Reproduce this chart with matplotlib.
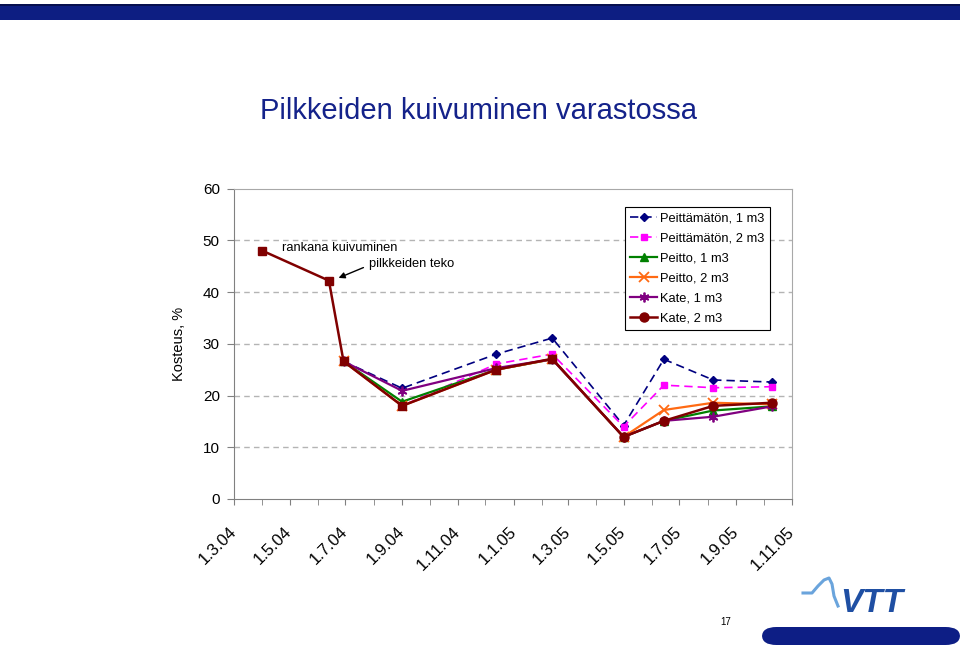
import numpy as np
import pandas as pd
import matplotlib
matplotlib.use('Agg')
import matplotlib.pyplot as plt
import matplotlib.dates as mdates
from matplotlib.patches import Rectangle, FancyBboxPatch
from matplotlib.ticker import FuncFormatter, FixedLocator

plt.rcParams['font.family'] = ['Liberation Sans', 'DejaVu Sans']

# mittauspäivät
dates = pd.to_datetime(['2004-04-01', '2004-06-13', '2004-06-29', '2004-09-01',
                        '2004-12-13', '2005-02-12', '2005-05-01', '2005-06-14',
                        '2005-08-07', '2005-10-10'])

nan = np.nan
peittamaton_1 = [nan, nan, 26.6, 21.4, 28.0, 31.1, 14.2, 27.0, 23.0, 22.6]
peittamaton_2 = [nan, nan, 26.6, 18.0, 26.1, 28.0, 14.0, 22.0, 21.5, 21.7]
peitto_1 = [nan, nan, 26.6, 18.8, 25.0, 27.0, 12.0, 15.1, 17.1, 17.9]
peitto_2 = [nan, nan, 26.6, 18.0, 25.0, 27.0, 12.0, 17.2, 18.6, 18.3]
kate_1 = [nan, nan, 26.6, 20.9, 25.3, 27.0, 12.0, 15.1, 15.9, 17.9]
kate_2 = [48.0, 42.2, 26.6, 18.0, 25.0, 27.1, 12.0, 15.1, 18.0, 18.6]

W, H = 960, 645


def fx(px):
    return px / W


def fy(py):
    return 1 - py / H


fig = plt.figure(figsize=(9.6, 6.45), dpi=100)
fig.patch.set_facecolor('white')

# yläpalkki
fig.patches.append(Rectangle((0, fy(19.5)), 1, fy(4) - fy(19.5), transform=fig.transFigure,
                             facecolor='#0d1e82', edgecolor='none'))
fig.patches.append(Rectangle((0, fy(5.5)), 1, fy(4) - fy(5.5), transform=fig.transFigure,
                             facecolor='#07104f', edgecolor='none'))

fig.text(fx(478), fy(111), 'Pilkkeiden kuivuminen varastossa', fontsize=21,
         color='#14228a', ha='center', va='center')

ax = fig.add_axes([fx(233.7), fy(499), fx(792) - fx(233.7), fy(188.5) - fy(499)])

ax.plot(dates, peittamaton_1, color='#000080', ls=(0, (5, 3)), lw=1.2,
        marker='D', ms=4, label='Peittämätön, 1 m3')
ax.plot(dates, peittamaton_2, color='#ff00ff', ls=(0, (5, 3)), lw=1.2,
        marker='s', ms=5, label='Peittämätön, 2 m3')
ax.plot(dates, peitto_1, color='#008000', lw=1.6,
        marker='^', ms=6, label='Peitto, 1 m3')
ax.plot(dates, peitto_2, color='#ff6a13', lw=1.6,
        marker='x', ms=7, mew=1.3, label='Peitto, 2 m3')
ax.plot(dates, kate_1, color='#800080', lw=1.6,
        marker=(6, 2, 0), ms=7, mew=1.3, label='Kate, 1 m3')
ax.plot(dates, kate_2, color='#800000', lw=1.8,
        marker='o', ms=6.5, markevery=[6, 7, 8, 9], label='Kate, 2 m3')
ax.plot(dates[:6], kate_2[:6], ls='none', color='#800000', marker='s', ms=5.5)

ax.set_xlim(pd.Timestamp('2004-03-01'), pd.Timestamp('2005-11-01'))
ax.set_ylim(0, 60)
ax.set_yticks(range(0, 61, 10))

months = pd.date_range('2004-03-01', '2005-11-01', freq='MS')
ax.xaxis.set_major_locator(FixedLocator(mdates.date2num(months[::2])))
ax.xaxis.set_minor_locator(FixedLocator(mdates.date2num(months[1::2])))
ax.xaxis.set_major_formatter(FuncFormatter(
    lambda v, pos: '{0}.{1}.{2:%y}'.format(mdates.num2date(v).day, mdates.num2date(v).month,
                                          mdates.num2date(v))))

ax.tick_params(axis='x', which='both', direction='out', length=4, color='#808080',
               labelsize=12, pad=18)
ax.tick_params(axis='y', direction='out', length=5, color='#808080', labelsize=11, pad=5)
for lab in ax.get_xticklabels():
    lab.set_rotation(45)
    lab.set_ha('right')
    lab.set_va('center')
    lab.set_rotation_mode('anchor')

for y in range(10, 60, 10):
    ax.axhline(y, color='#b4b4b4', lw=1, ls=(0, (4, 3)), zorder=0)

for s in ['left', 'bottom']:
    ax.spines[s].set_color('#808080')
for s in ['top', 'right']:
    ax.spines[s].set_color('#a8a8a8')

ax.set_ylabel('Kosteus, %', fontsize=10.5, labelpad=12)

leg = ax.legend(loc='upper right', bbox_to_anchor=(0.9606, 0.939), fontsize=9.3,
                frameon=True, fancybox=False, edgecolor='black', framealpha=1,
                handlelength=2.1, labelspacing=0.62, borderpad=0.4, handletextpad=0.25,
                borderaxespad=0)
leg.get_frame().set_linewidth(0.8)

fig.text(fx(282), fy(248), 'rankana kuivuminen', fontsize=9.3, ha='left', va='center')
fig.text(fx(369), fy(264), 'pilkkeiden teko', fontsize=9.3, ha='left', va='center')
ax.annotate('', xy=(fx(336), fy(279)), xycoords='figure fraction',
            xytext=(fx(366), fy(266.5)), textcoords='figure fraction',
            arrowprops=dict(arrowstyle='-|>', color='black', lw=1, mutation_scale=9))

# VTT-logo ja sivunumero
fig.text(fx(726), fy(622), '17', fontsize=7, ha='center', va='center')
wave_x = [803, 812, 818, 824, 829, 832, 834, 838]
wave_y = [593, 593, 586, 580, 578, 584, 596, 606]
fig.lines.append(plt.Line2D([fx(v) for v in wave_x], [fy(v) for v in wave_y],
                            transform=fig.transFigure, color='#6aa4dc', lw=2.2))
fig.text(fx(872), fy(603), 'VTT', fontsize=24, fontweight='heavy', fontstyle='italic',
         color='#1f4fa3', ha='center', va='center')
fig.patches.append(FancyBboxPatch((fx(762), fy(645)), fx(960) - fx(762), fy(627) - fy(645),
                                  boxstyle='round,pad=0,rounding_size=0.015',
                                  transform=fig.transFigure, facecolor='#0d1e85',
                                  edgecolor='none', mutation_aspect=1))

fig.savefig('out.png', dpi=100)
